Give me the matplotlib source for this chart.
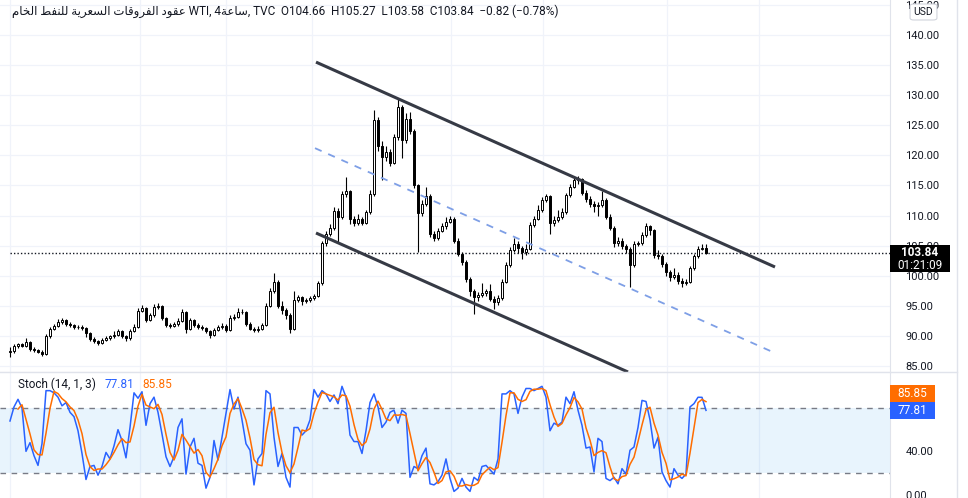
import numpy as np
import matplotlib.pyplot as plt
from matplotlib.lines import Line2D
from matplotlib.patches import Rectangle, FancyBboxPatch
from matplotlib.offsetbox import TextArea, HPacker, AnchoredOffsetbox

plt.rcParams['font.family'] = ['Roboto', 'DejaVu Sans']

# 4h candles (WTI)
first_open = 87.3
closes = [
    87.5, 88.3, 88.6, 88.4, 89.0, 87.8, 87.6, 87.4, 87.0, 90.0,
    91.2, 91.6, 92.3, 92.6, 92.0, 91.8, 91.4, 91.5, 91.3, 90.5,
    89.5, 89.2, 88.8, 89.3, 89.6, 89.9, 90.2, 90.8, 90.0, 89.6,
    90.8, 91.5, 94.2, 94.6, 92.6, 93.4, 94.8, 95.0, 93.0, 91.8,
    91.7, 91.9, 92.5, 94.0, 91.2, 92.6, 91.8, 91.5, 91.3, 90.8,
    90.2, 91.0, 91.4, 91.7, 91.0, 93.0, 93.2, 93.9, 94.0, 92.0,
    91.2, 91.0, 91.2, 91.8, 95.0, 97.5, 99.0, 95.0, 94.3, 93.5,
    91.2, 96.0, 96.4, 95.8, 95.9, 96.3, 96.6, 98.8, 105.4, 107.0,
    108.0, 110.8, 109.8, 113.5, 114.0, 109.5, 108.8, 109.4, 108.8, 110.6,
    113.5, 125.8, 121.5, 119.8, 120.5, 118.8, 123.0, 128.0, 122.5, 126.0,
    124.0, 115.0, 110.5, 112.0, 113.3, 107.0, 106.2, 107.5, 108.2, 109.0,
    109.5, 105.8, 103.6, 102.3, 99.5, 97.4, 96.4, 96.8, 97.1, 97.4,
    96.2, 95.6, 96.3, 99.0, 101.8, 104.2, 105.3, 104.6, 103.9, 104.4,
    108.5, 109.5, 111.0, 112.6, 113.2, 108.8, 109.3, 109.8, 110.6, 113.4,
    114.8, 115.9, 116.0, 113.8, 112.8, 112.0, 111.6, 111.8, 112.6, 109.8,
    108.0, 105.4, 105.8, 105.0, 104.5, 101.8, 105.3, 105.4, 106.8, 108.2,
    107.6, 103.5, 103.2, 102.0, 100.6, 99.8, 100.2, 99.2, 98.8, 99.0,
    101.3, 103.2, 104.5, 104.66, 103.84,
]
highs = [
    88.2, 88.6, 88.9, 88.9, 89.6, 89.2, 88.1, 87.9, 87.6, 90.3,
    91.5, 92.0, 92.8, 92.9, 92.8, 92.3, 92.0, 91.8, 91.8, 91.5,
    90.7, 89.8, 89.4, 89.6, 90.0, 90.2, 90.8, 91.2, 91.0, 90.2,
    91.1, 92.0, 94.6, 95.1, 94.8, 93.8, 95.3, 95.4, 95.2, 93.2,
    92.2, 92.3, 93.0, 94.4, 94.2, 93.0, 92.8, 92.1, 91.8, 91.5,
    91.0, 91.3, 91.8, 92.2, 91.9, 93.4, 93.6, 94.6, 94.4, 94.2,
    92.3, 91.5, 91.6, 92.2, 95.4, 98.0, 100.4, 99.3, 95.8, 94.6,
    93.8, 97.5, 96.8, 96.7, 96.3, 96.6, 96.9, 99.2, 105.8, 107.5,
    108.6, 111.5, 111.2, 114.0, 116.4, 114.3, 110.0, 110.2, 109.8, 111.0,
    114.2, 127.6, 126.3, 122.4, 121.5, 121.0, 123.6, 129.5, 128.4, 127.0,
    127.2, 124.3, 115.3, 112.6, 114.8, 113.6, 107.4, 108.0, 108.8, 109.8,
    110.0, 109.8, 106.2, 104.0, 102.6, 99.8, 97.8, 97.3, 98.8, 97.8,
    98.6, 96.6, 96.8, 99.4, 102.2, 104.7, 106.2, 105.8, 105.0, 105.3,
    108.9, 110.0, 111.8, 113.0, 113.5, 113.4, 110.0, 111.0, 111.2, 113.8,
    115.3, 116.4, 116.6, 116.2, 114.2, 113.2, 112.4, 112.2, 114.0, 112.9,
    110.2, 108.3, 106.5, 106.2, 105.3, 104.8, 105.8, 105.8, 107.2, 108.7,
    108.5, 107.8, 104.2, 103.6, 102.3, 101.0, 101.2, 100.6, 99.6, 99.4,
    101.6, 103.6, 104.9, 105.2, 105.27,
]
lows = [
    86.5, 87.2, 88.0, 88.1, 88.2, 87.5, 87.3, 87.1, 86.7, 86.8,
    89.7, 91.0, 91.4, 92.0, 91.7, 91.5, 91.1, 91.1, 91.0, 89.8,
    89.2, 88.9, 88.5, 88.6, 89.1, 89.4, 89.7, 90.0, 89.7, 89.2,
    89.4, 90.6, 91.3, 93.9, 92.3, 92.4, 93.2, 94.5, 92.7, 91.5,
    91.3, 91.4, 91.7, 92.3, 90.4, 91.0, 91.5, 91.2, 91.0, 90.4,
    89.6, 90.0, 90.8, 91.2, 90.6, 90.8, 92.7, 93.0, 93.6, 91.7,
    90.9, 90.6, 90.7, 91.0, 91.6, 94.8, 97.2, 94.6, 93.6, 92.8,
    90.5, 91.0, 95.6, 95.1, 95.5, 95.7, 96.0, 96.4, 98.5, 105.0,
    106.6, 107.6, 105.4, 109.5, 113.0, 108.6, 108.3, 108.5, 108.4, 108.6,
    110.3, 113.2, 120.8, 115.9, 119.0, 118.2, 118.5, 122.5, 119.5, 122.0,
    123.5, 114.5, 104.0, 110.0, 111.6, 106.5, 105.8, 106.0, 107.2, 107.8,
    108.8, 105.4, 103.2, 101.8, 99.0, 96.6, 93.6, 95.8, 96.4, 96.6,
    95.8, 94.4, 95.2, 96.0, 98.8, 101.5, 103.9, 103.8, 102.8, 103.5,
    104.2, 108.1, 109.2, 110.6, 112.2, 107.0, 108.2, 109.0, 109.4, 110.3,
    113.0, 114.5, 115.3, 113.4, 112.3, 111.4, 110.6, 110.0, 111.5, 109.4,
    107.6, 104.8, 105.0, 104.4, 103.8, 98.1, 101.5, 104.9, 105.1, 106.5,
    106.8, 103.0, 102.7, 101.4, 100.0, 99.2, 99.4, 98.6, 98.2, 98.5,
    98.8, 101.0, 102.9, 104.2, 103.58,
]

# Stoch %K (14, 1, 3), one value per candle
stoch_k = [
    68, 81, 88, 80, 40, 48, 36, 27, 47, 96, 96, 94, 90, 82, 85, 76, 72, 59, 38, 14,
    26, 27, 18, 26, 39, 33, 45, 60, 50, 34, 62, 94, 89, 95, 64, 84, 90, 76, 56, 35,
    26, 35, 62,
    70, 19, 44, 52, 29, 27, 6, 16, 50, 32, 53, 75, 97, 79, 90, 69, 47, 41, 9, 33,
    38, 96, 93, 53, 26, 38, 16, 7, 62, 62, 55, 59, 69, 97, 90, 96, 93, 86, 92, 84,
    100, 90, 55, 49,
    49, 38, 59, 85, 93, 81, 62, 67, 76, 78, 66, 78, 75, 16, 26, 24, 36, 43, 10, 9,
    12, 18, 33, 15, 3, 6, 15, 7, 3, 16, 13, 26, 27, 23, 19, 33, 93, 93, 96, 93,
    75, 90, 98,
    98, 96, 98, 100, 90, 59, 66, 64, 67, 90, 84, 95, 78, 64, 43, 44, 21, 52, 49, 15,
    13, 16, 10, 24, 19, 41, 44, 62, 87, 86, 69, 43, 53, 21, 13, 7, 24, 18, 15, 19,
    81, 84, 89.9, 89.84, 77.81,
]

# drawn channel: (candle index, price) anchors
upper_line = ([76.5, 191.25], [135.5, 101.45])
lower_line = ([76.5, 154.5], [107.1, 84.0])
mid_line = ([76.25, 190.75], [121.2, 87.3])

time_grid = [0, 32.5, 54, 75.5, 110.25, 133.25, 164.25, 187.25]
price_ticks = [85, 90, 95, 100, 105, 110, 115, 120, 125, 130, 135, 140, 145]
stoch_ticks = [0, 40]   # 80.00 sits under the value labels
countdown = "01:21:09"

# simple arabic shaping (matplotlib has no complex text layout)
FORMS = {
    'ا': ('\ufe8d', '\ufe8e', None, None),
    'د': ('\ufea9', '\ufeaa', None, None),
    'ر': ('\ufead', '\ufeae', None, None),
    'و': ('\ufeed', '\ufeee', None, None),
    'ة': ('\ufe93', '\ufe94', None, None),
    'ل': ('\ufedd', '\ufede', '\ufedf', '\ufee0'),
    'ف': ('\ufed1', '\ufed2', '\ufed3', '\ufed4'),
    'ق': ('\ufed5', '\ufed6', '\ufed7', '\ufed8'),
    'ت': ('\ufe95', '\ufe96', '\ufe97', '\ufe98'),
    'س': ('\ufeb1', '\ufeb2', '\ufeb3', '\ufeb4'),
    'ع': ('\ufec9', '\ufeca', '\ufecb', '\ufecc'),
    'ي': ('\ufef1', '\ufef2', '\ufef3', '\ufef4'),
    'ن': ('\ufee5', '\ufee6', '\ufee7', '\ufee8'),
    'ط': ('\ufec1', '\ufec2', '\ufec3', '\ufec4'),
    'خ': ('\ufea5', '\ufea6', '\ufea7', '\ufea8'),
    'م': ('\ufee1', '\ufee2', '\ufee3', '\ufee4'),
}


def shape_word(w):
    out = []
    for j, ch in enumerate(w):
        f = FORMS[ch]
        prev_joins = j > 0 and FORMS[w[j - 1]][2] is not None
        next_joins = j < len(w) - 1 and f[2] is not None
        if prev_joins and next_joins:
            out.append(f[3])
        elif prev_joins:
            out.append(f[1])
        elif next_joins:
            out.append(f[2])
        else:
            out.append(f[0])
    return ''.join(reversed(out))


def shape_phrase(s):
    return ' '.join(shape_word(w) for w in reversed(s.split()))


opens = [first_open] + closes[:-1]
o = np.array(opens)
c = np.array(closes)
h = np.array(highs)
l = np.array(lows)
idx = np.arange(len(c))
up = c >= o

k = np.array(stoch_k, dtype=float)
d = np.convolve(k, np.ones(3) / 3, mode='valid')

W, H = 968, 498
fig = plt.figure(figsize=(W / 100, H / 100), dpi=100)
ax = fig.add_axes([0, 1 - 372 / H, 890 / W, 372 / H])
ax2 = fig.add_axes([0, 0, 890 / W, 125 / H])

grid_c = '#f0f3fa'
border_c = '#e0e3eb'
text_c = '#131722'

# --- price pane
ax.vlines(idx, l, h, color='black', lw=0.8, zorder=2)
ax.bar(idx[up], (c - o)[up], bottom=o[up], width=0.6, color='white',
       edgecolor='black', lw=0.7, zorder=3)
ax.bar(idx[~up], (c - o)[~up], bottom=o[~up], width=0.6, color='black',
       edgecolor='black', lw=0.7, zorder=3)

ax.plot(*upper_line, color='#363a45', lw=2.2, solid_capstyle='butt', zorder=4)
ax.plot(*lower_line, color='#363a45', lw=2.2, solid_capstyle='butt', zorder=4)
ax.plot(*mid_line, color='#7e9fe6', lw=1.3, dashes=(4, 4), zorder=4)

ax.plot([0, 220], [closes[-1], closes[-1]], color=text_c, lw=1, ls=(0, (1, 1.5)), zorder=1)

ax.set_xlim(-2.5, 220)
ax.set_ylim(84.0, 145.82)
ax.yaxis.tick_right()
ax.set_yticks(price_ticks)
ax.set_yticklabels([f"{v:.2f}" for v in price_ticks])
ax.set_xticks(time_grid)
ax.set_xticklabels([])
ax.tick_params(axis='both', length=0)
ax.tick_params(axis='y', pad=11, labelsize=8, labelcolor=text_c)
ax.grid(True, color=grid_c, lw=0.9)
ax.set_axisbelow(True)
for s in ['top', 'left']:
    ax.spines[s].set_visible(False)
ax.spines['right'].set_color(border_c)
ax.spines['bottom'].set_color(border_c)

# --- stoch pane
ax2.axhspan(20, 80, color='#2196F3', alpha=0.1, lw=0)
ax2.axhline(80, color='#787B86', lw=1, dashes=(4, 4))
ax2.axhline(20, color='#787B86', lw=1, dashes=(4, 4))
ax2.plot(idx, k, color='#2962FF', lw=1.1, zorder=3)
ax2.plot(idx[2:], d, color='#FF6D00', lw=1.1, zorder=3)
ax2.set_xlim(-2.5, 220)
ax2.set_ylim(-3.08, 112.3)
ax2.yaxis.tick_right()
ax2.set_yticks(stoch_ticks)
ax2.set_yticklabels([f"{v:.2f}" for v in stoch_ticks])
ax2.set_xticks(time_grid)
ax2.set_xticklabels([])
ax2.tick_params(axis='both', length=0)
ax2.tick_params(axis='y', pad=11, labelsize=8, labelcolor=text_c)
ax2.grid(True, axis='x', color=grid_c, lw=0.9)
ax2.set_axisbelow(True)
for s in ['top', 'left', 'bottom']:
    ax2.spines[s].set_visible(False)
ax2.spines['right'].set_color(border_c)

legend_parts = [
    TextArea("Stoch (14, 1, 3)", textprops=dict(color=text_c, size=8.5)),
    TextArea(f"{k[-1]:.2f}", textprops=dict(color='#2962FF', size=8.5)),
    TextArea(f"{d[-1]:.2f}", textprops=dict(color='#FF6D00', size=8.5)),
]
leg = AnchoredOffsetbox(loc='upper left', child=HPacker(children=legend_parts, pad=0, sep=6),
                        pad=0, borderpad=0, frameon=False,
                        bbox_to_anchor=(18 / W, 1 - 378 / H), bbox_transform=fig.transFigure)
ax2.add_artist(leg)

# --- right-hand labels
fig.canvas.draw()


def side_box(axis, value, text, fc, dy=0, w=45, hgt=17, bold=False, sub=None):
    ypx = axis.transData.transform((0, value))[1] + dy
    top = ypx + hgt / 2 if sub is None else ypx + 7.5
    fig.patches.append(Rectangle((890 / W, (top - hgt) / H), w / W, hgt / H,
                                 transform=fig.transFigure, fc=fc, ec='none', zorder=5))
    fig.text((890 + w / 2) / W, ypx / H, text, color='white', fontsize=8.5,
             fontweight='bold' if bold else 'normal', ha='center', va='center', zorder=6)
    if sub is not None:
        fig.text((890 + w / 2) / W, (ypx - 13) / H, sub, color='white', fontsize=8.5,
                 ha='center', va='center', zorder=6)


side_box(ax, closes[-1], f"{closes[-1]:.2f}", 'black', w=60, hgt=27, bold=True, sub=countdown)
side_box(ax2, k[-1], f"{k[-1]:.2f}", '#2962FF')
side_box(ax2, k[-1], f"{d[-1]:.2f}", '#FF6D00', dy=17)

usd = FancyBboxPatch((912 / W, 479 / H), 23 / W, 14 / H, boxstyle='round,pad=0.002,rounding_size=0.004',
                     transform=fig.transFigure, fc='white', ec='#d1d4dc', lw=0.8, zorder=5)
fig.patches.append(usd)
fig.text(923.5 / W, 486 / H, "USD", color=text_c, fontsize=7.5, ha='center', va='center', zorder=6)

fig.lines.append(Line2D([957 / W, 957 / W], [0, 1], transform=fig.transFigure, color=border_c, lw=1))
fig.lines.append(Line2D([0, 957 / W], [1 - 372 / H, 1 - 372 / H], transform=fig.transFigure,
                        color=border_c, lw=1))

# --- header
title_ar = shape_phrase("عقود الفروقات السعرية للنفط الخام")
chg = closes[-1] - opens[-1]
header = (f"{title_ar} WTI, 4{shape_word('ساعة')}, TVC  "
          f"O{opens[-1]:.2f}  H{highs[-1]:.2f}  L{lows[-1]:.2f}  C{closes[-1]:.2f}  "
          f"{chg:.2f} ({chg / opens[-1] * 100:.2f}%)").replace('-', '\u2212')
fig.text(12 / W, 1 - 11 / H, header, color=text_c, fontsize=8.5, va='center', ha='left')

fig.savefig('out.png', dpi=100)
